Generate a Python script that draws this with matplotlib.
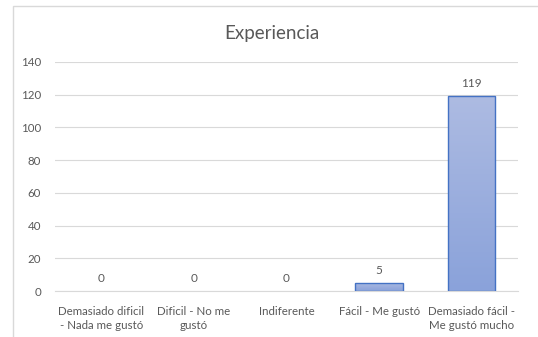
import numpy as np
import matplotlib
matplotlib.use('Agg')
from matplotlib import pyplot as plt
from matplotlib.patches import Rectangle

categories = ["Demasiado dificil\n- Nada me gustó", "Dificil - No me\ngustó",
              "Indiferente", "Fácil - Me gustó", "Demasiado fácil -\nMe gustó mucho"]
values = [0, 0, 0, 5, 119]
y_ticks = [0, 20, 40, 60, 80, 100, 120, 140]
title = "Experiencia"

plt.rcParams['font.family'] = ['Lato', 'DejaVu Sans']
text_color = '#595959'
grid_color = '#d9d9d9'

fig = plt.figure(figsize=(5.38, 3.37), dpi=100)
ax = fig.add_axes([55 / 538, 1 - 291 / 337, 463 / 538, 229 / 337])

# chart frame (cut off at right and bottom like the original)
fig.patches.append(Rectangle((13 / 538, -0.1), 1.2, (337 - 6) / 337 + 0.1,
                             transform=fig.transFigure, fill=False,
                             edgecolor=grid_color, linewidth=1.0))

x = np.arange(len(categories))
bars = ax.bar(x, values, width=0.51, color='none', edgecolor='#4472c4',
              linewidth=1.0, zorder=3)

# vertical gradient fill, light at top
grad = np.linspace(0, 1, 256).reshape(-1, 1)
cmap = matplotlib.colors.LinearSegmentedColormap.from_list(
    'g', ['#8aa2da', '#adbbe2'])
for b in bars:
    if b.get_height() <= 0:
        b.set_linewidth(0)
        continue
    x0, y0 = b.get_x(), b.get_y()
    im = ax.imshow(grad, extent=[x0, x0 + b.get_width(), y0, y0 + b.get_height()],
                   origin='lower', aspect='auto', cmap=cmap, zorder=2)
    im.set_clip_path(b)

for xi, v in zip(x, values):
    ax.annotate(str(v), (xi, v), xytext=(0, 5), textcoords='offset points',
                ha='center', va='bottom', fontsize=8.5, color=text_color)

ax.set_xlim(-0.5, len(categories) - 0.5)
ax.set_ylim(0, 140)
ax.set_yticks(y_ticks)
ax.set_xticks(x)
ax.set_xticklabels(categories, fontsize=8.3, color=text_color, linespacing=1.35)
ax.tick_params(axis='y', labelsize=8.3, labelcolor=text_color, length=0, pad=10)
ax.tick_params(axis='x', length=0, pad=11)
ax.yaxis.grid(True, color=grid_color, linewidth=0.8)
ax.set_axisbelow(True)
for s in ['top', 'right', 'left']:
    ax.spines[s].set_visible(False)
ax.spines['bottom'].set_color(grid_color)
ax.spines['bottom'].set_linewidth(0.8)

fig.text(272 / 538, 1 - 33 / 337, title, ha='center', va='center',
         fontsize=13.5, color=text_color)

fig.savefig('out.png', dpi=100)
